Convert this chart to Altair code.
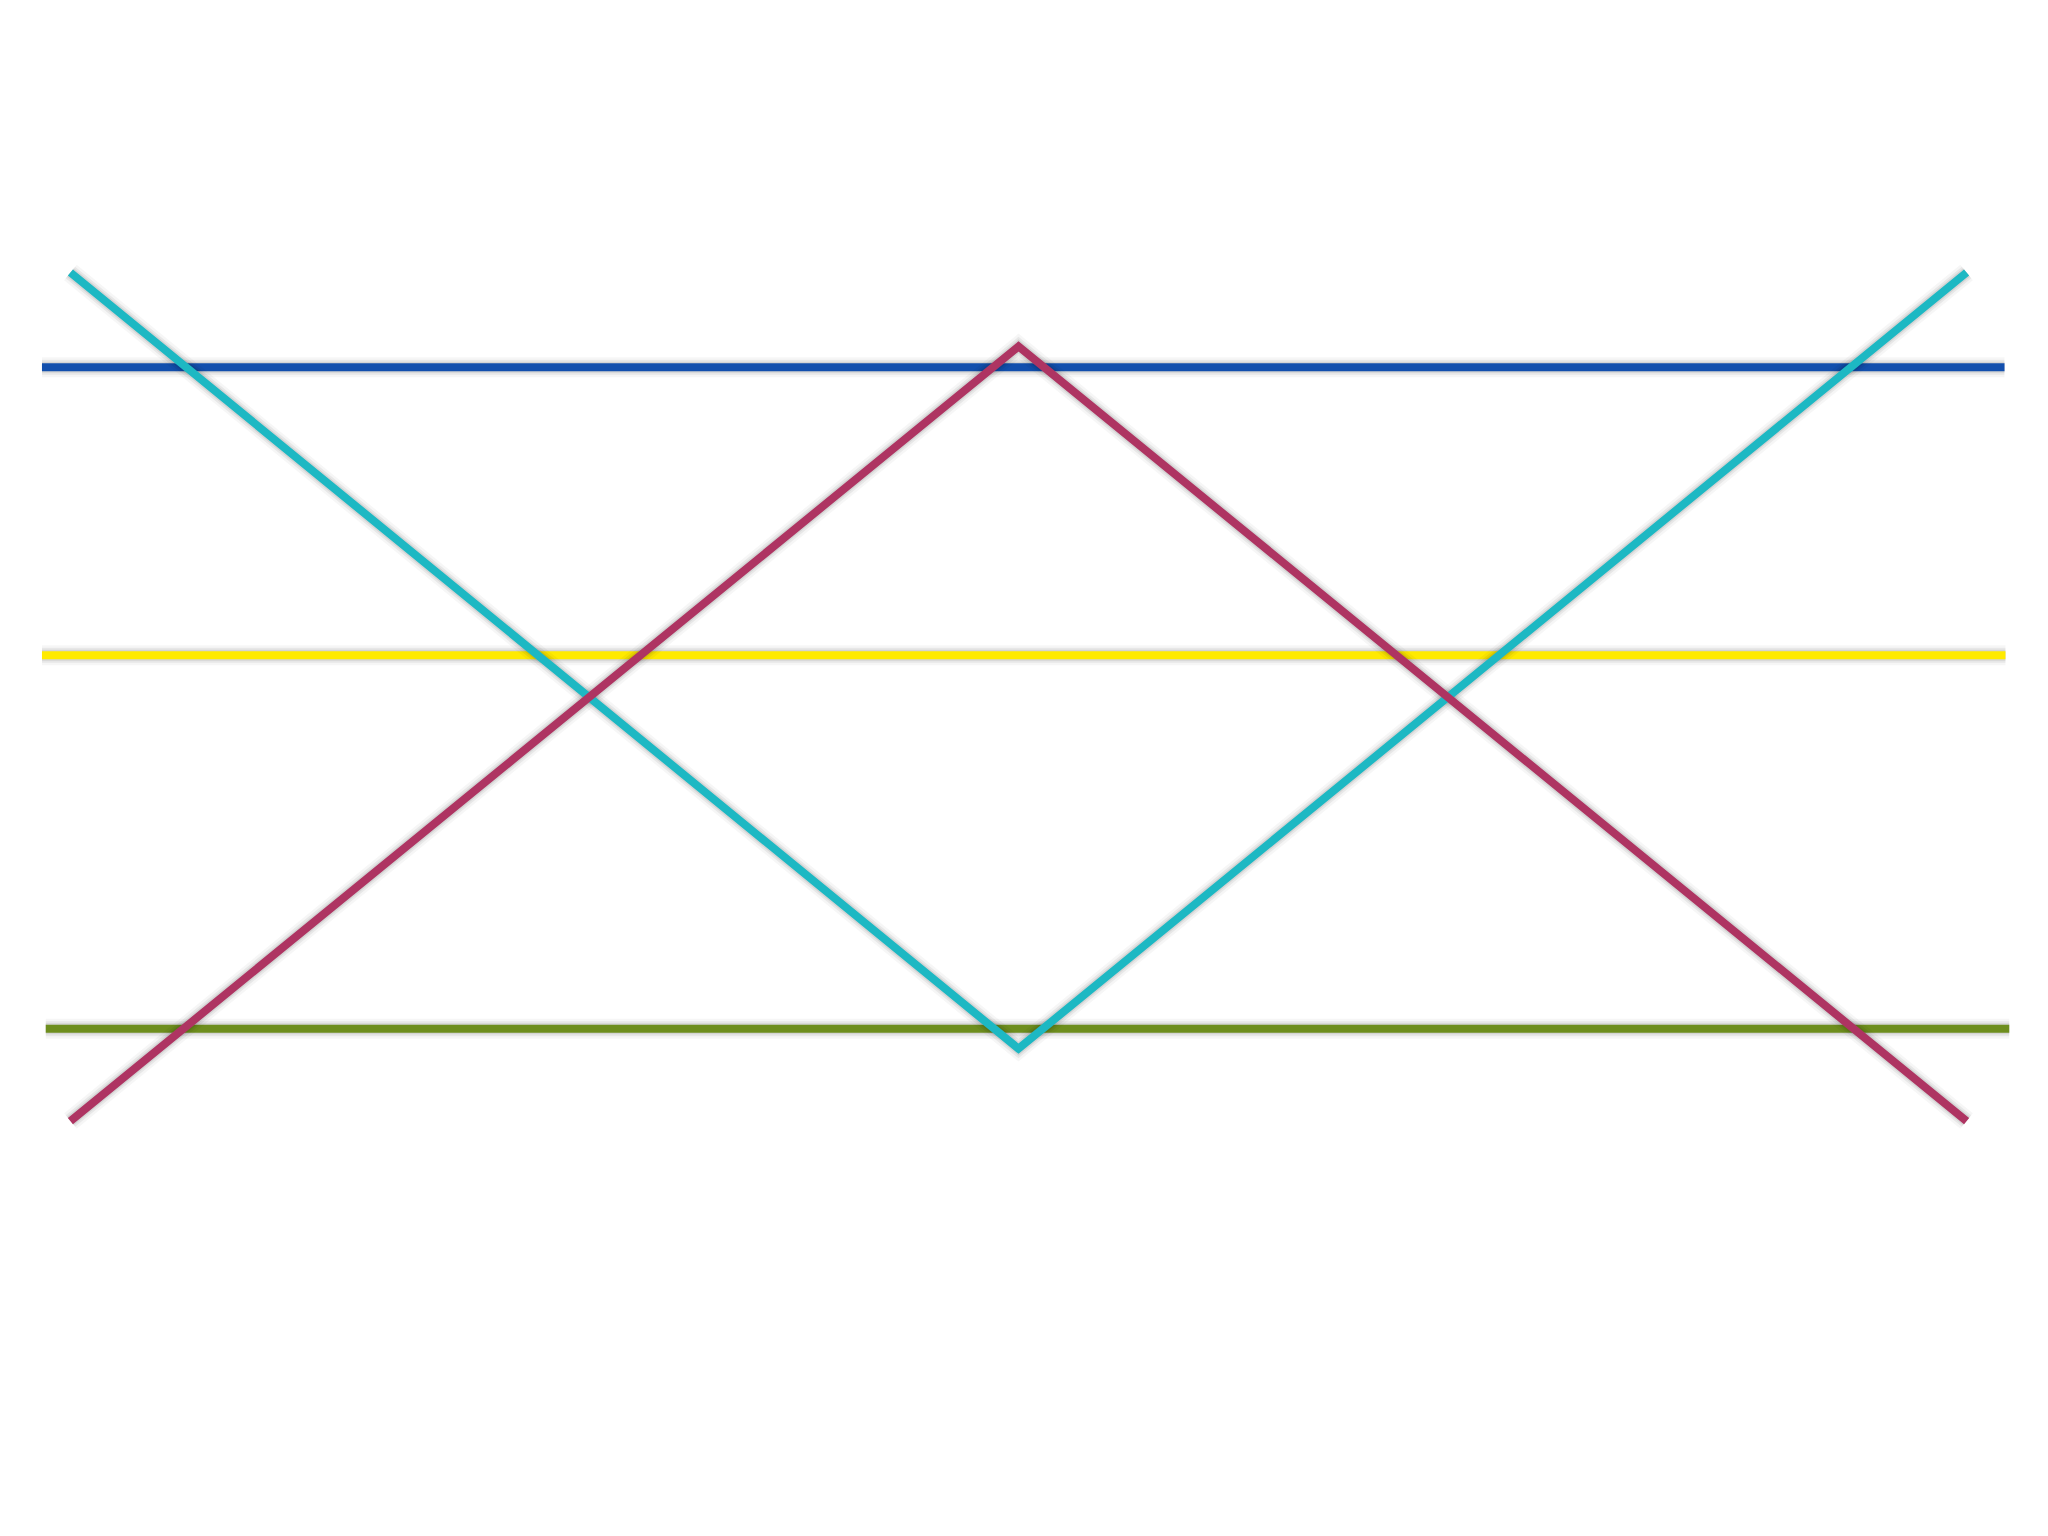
import altair as alt
import pandas as pd

# diagonal series (x positions and values)
diag_x = [0, 1, 2]
cyan_y = [5.5, -4.58, 5.5]
magenta_y = [-5.52, 4.54, -5.52]

# horizontal series: level and x extent
h_names = ["blue", "yellow", "green"]
h_levels = [4.27, 0.53, -4.32]
h_start = [-0.03, -0.03, -0.026]
h_end = [2.04, 2.041, 2.045]

series_names = ["blue", "yellow", "green", "cyan", "magenta"]
series_colors = ["#124FAD", "#FFEA00", "#6E8E1E", "#1DB8C3", "#AE3462"]

rows = []
for n, lv, s, e in zip(h_names, h_levels, h_start, h_end):
    rows.append({"series": n, "order": 0, "x": s, "y": lv, "kind": "h"})
    rows.append({"series": n, "order": 1, "x": e, "y": lv, "kind": "h"})
for i, (xv, yv) in enumerate(zip(diag_x, cyan_y)):
    rows.append({"series": "cyan", "order": i, "x": xv, "y": yv, "kind": "d"})
for i, (xv, yv) in enumerate(zip(diag_x, magenta_y)):
    rows.append({"series": "magenta", "order": i, "x": xv, "y": yv, "kind": "d"})
df = pd.DataFrame(rows)

xs = alt.Scale(domain=[-0.05, 2.05], nice=False, zero=False)
ys = alt.Scale(domain=[-8, 8], nice=False, zero=False)
cs = alt.Scale(domain=series_names, range=series_colors)

def base(data):
    return alt.Chart(data).encode(
        x=alt.X("x:Q", scale=xs, axis=None),
        y=alt.Y("y:Q", scale=ys, axis=None),
        detail="series:N",
        order="order:Q",
    )

h = df[df.kind == "h"]
d = df[df.kind == "d"]

layers = []
for sub in (h, d):
    layers.append(base(sub).mark_line(color="#000000", strokeWidth=20, opacity=0.035, strokeCap="butt"))
    layers.append(base(sub).mark_line(color="#000000", strokeWidth=15, opacity=0.06, strokeCap="butt"))
    layers.append(base(sub).mark_line(color="#000000", strokeWidth=11, opacity=0.08, strokeCap="butt"))
    layers.append(base(sub).mark_line(strokeWidth=8, strokeCap="butt", strokeJoin="miter").encode(
        color=alt.Color("series:N", scale=cs, legend=None)))

chart = alt.layer(*layers).properties(
    width=1991, height=1232,
    padding={"left": 15, "top": 72, "right": 0, "bottom": 0},
    autosize="none",
    background="white",
).configure_view(strokeWidth=0, stroke="transparent")

chart.save("out.html", embed_options={"renderer": "svg", "actions": False})
